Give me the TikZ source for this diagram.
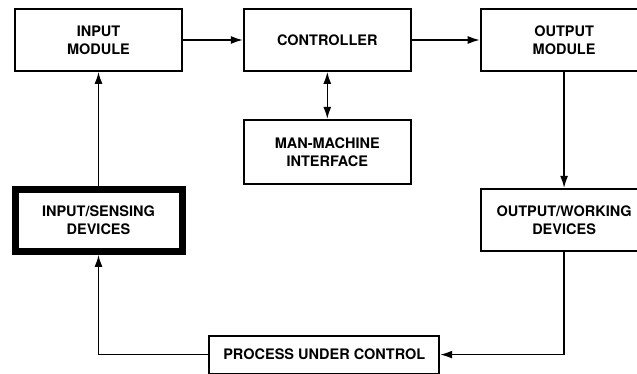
\documentclass[tikz,border=0pt]{standalone}
\usepackage{fontspec}
\setmainfont{TeX Gyre Heros}
\usetikzlibrary{arrows.meta, positioning}

\begin{document}
\begin{tikzpicture}[x=1pt, y=-1pt,
  node distance=60pt and 60pt,
  blk/.style={draw, line width=1.8pt, inner sep=0pt, minimum width=167pt,
              minimum height=62pt, align=center,
              font=\bfseries\fontsize{14.5}{18}\selectfont},
  heavy/.style={blk, line width=7pt, minimum width=167pt, minimum height=62pt},
  arr/.style={-{Latex[length=12pt,width=8pt]}, line width=1.5pt},
  dbl/.style={{Latex[length=12pt,width=8pt]}-{Latex[length=12pt,width=8pt]}, line width=1.5pt}
]
\path[use as bounding box, clip] (0,0) rectangle (637,374);

% top row
\node[blk] (inmod) at (98.5,40) {INPUT\\MODULE};
\node[blk, right=60pt of inmod]  (ctrl)   {CONTROLLER};
\node[blk, right=68pt of ctrl]   (outmod) {OUTPUT\\MODULE};
\node[blk, below=47pt of ctrl, minimum height=64pt] (mmi) {MAN-MACHINE\\INTERFACE};

% devices and process
\node[heavy, below=114pt of inmod]  (insens)  {INPUT/SENSING\\DEVICES};
\node[blk,   below=116pt of outmod] (outwork) {OUTPUT/WORKING\\DEVICES};
\node[blk,   below=150pt of mmi, xshift=-3pt, minimum width=230pt,
      minimum height=38pt] (proc) {PROCESS UNDER CONTROL};

\draw[arr] (inmod) -- (ctrl);
\draw[arr] (ctrl) -- (outmod);
\draw[dbl] (ctrl) -- (mmi);
\draw[arr] (outmod) -- (outwork);
\draw[arr] (outwork.south) |- (proc.east);
\draw[arr] (proc.west) -| (insens.south);
\draw[arr] (insens) -- (inmod);
\end{tikzpicture}
\end{document}
